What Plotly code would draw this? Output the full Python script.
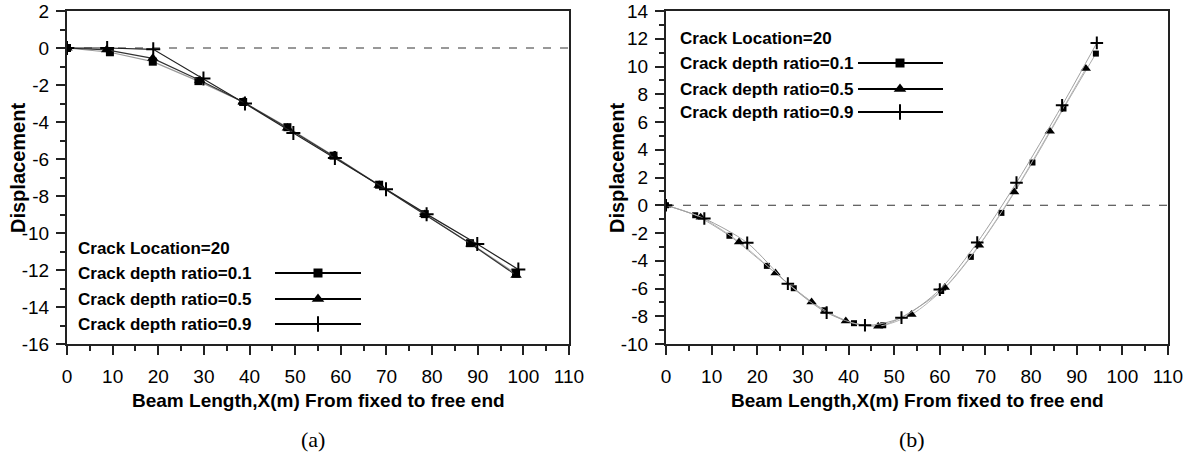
import plotly.graph_objects as go

# ---------------- data: panel (a) ----------------
a_x_01 = [0, 9.4, 18.8, 28.8, 38.6, 48.3, 58.4, 68.4, 78.4, 88.3, 98.4]
a_y_01 = [0, -0.23, -0.74, -1.79, -2.92, -4.28, -5.82, -7.39, -8.98, -10.55, -12.2]
a_x_05 = [0, 8.7, 18.8, 29.1, 38.6, 48.3, 58.4, 68.4, 78.4, 88.5, 98.4]
a_y_05 = [0, -0.1, -0.56, -1.74, -2.92, -4.32, -5.85, -7.42, -9.0, -10.6, -12.28]
a_x_09 = [0, 8.8, 18.9, 29.9, 39.0, 49.6, 58.7, 69.9, 78.8, 89.9, 98.9]
a_y_09 = [0, 0, -0.07, -1.65, -3.0, -4.6, -5.94, -7.63, -8.98, -10.6, -11.97]

# ---------------- data: panel (b) ----------------
b_x_01 = [0, 6.4, 13.9, 22.1, 28.0, 34.7, 41.2, 47.6, 60.3, 66.8, 73.5, 80.3, 87.1, 94.2]
b_y_01 = [0, -0.72, -2.2, -4.37, -5.98, -7.57, -8.5, -8.65, -6.18, -3.72, -0.55, 3.08, 6.97, 10.93]
b_x_05 = [0, 7.6, 16.0, 24.0, 31.9, 39.4, 46.5, 53.8, 61.1, 68.6, 76.3, 84.1, 92.0]
b_y_05 = [0, -0.86, -2.64, -4.88, -6.97, -8.34, -8.72, -7.88, -5.93, -2.88, 0.96, 5.33, 9.85]
b_x_09 = [0, 8.4, 17.8, 26.7, 35.2, 43.6, 51.6, 60.0, 68.2, 76.8, 86.8, 94.4]
b_y_09 = [0, -0.96, -2.71, -5.65, -7.74, -8.65, -8.1, -6.08, -2.69, 1.63, 7.2, 11.7]

series_names = ["Crack depth ratio=0.1", "Crack depth ratio=0.5", "Crack depth ratio=0.9"]
legend_title = "Crack Location=20"
x_title = "Beam Length,X(m) From fixed to free end"
y_title = "Displacement"
panel_labels = ["(a)", "(b)"]

x_ticks = [0, 10, 20, 30, 40, 50, 60, 70, 80, 90, 100, 110]
x_ticktext = ["0", "10", "20", "30", "40", "50", "60", "70", "80", "90", "100", "110"]
ya_ticks = [2, 0, -2, -4, -6, -8, -10, -12, -14, -16]
ya_ticktext = ["2", "0", "-2", "-4", "-6", "-8", "-10", "-12", "-14", "-16"]
yb_ticks = [14, 12, 10, 8, 6, 4, 2, 0, -2, -4, -6, -8, -10]
yb_ticktext = ["14", "12", "10", "8", "6", "4", "2", "0", "-2", "-4", "-6", "-8", "-10"]

W, H = 1195, 459
FONT = "Liberation Sans, Arial, sans-serif"
SERIF = "Liberation Serif, Times New Roman, serif"
AX = "#222222"

def px_x(p):  # page pixel -> paper fraction
    return p / W

def px_y(p):
    return 1 - p / H

fig = go.Figure()

symbols = ["square", "triangle-up", "cross-thin"]

def marker(sym, size):
    if sym == "cross-thin":
        return dict(symbol=sym, size=size, color="black", line=dict(color="black", width=2))
    return dict(symbol=sym, size=size, color="black", line=dict(width=0))

# zero dashed lines
for xa, ya in [("x", "y"), ("x2", "y2")]:
    fig.add_trace(go.Scatter(x=[0, 110], y=[0, 0], mode="lines", xaxis=xa, yaxis=ya,
                             line=dict(color="#333", width=1, dash="8px,9px"),
                             hoverinfo="skip", showlegend=False))

# panel (a)
a_sets = [(a_x_01, a_y_01, "#9a9a9a", 8), (a_x_05, a_y_05, "#333333", 10), (a_x_09, a_y_09, "#222222", 10)]
for (xs, ys, lc, ms), sym, nm in zip(a_sets, symbols, series_names):
    fig.add_trace(go.Scatter(x=xs, y=ys, mode="lines+markers", name=nm, xaxis="x", yaxis="y",
                             line=dict(color=lc, width=1.2), marker=marker(sym, ms), showlegend=False))

# panel (b)
b_sets = [(b_x_01, b_y_01, "#aaaaaa", 6), (b_x_05, b_y_05, "#b5b5b5", 9), (b_x_09, b_y_09, "#a0a0a0", 9)]
for (xs, ys, lc, ms), sym, nm in zip(b_sets, symbols, series_names):
    fig.add_trace(go.Scatter(x=xs, y=ys, mode="lines", xaxis="x2", yaxis="y2",
                             line=dict(color=lc, width=1, shape="spline", smoothing=0.8),
                             hoverinfo="skip", showlegend=False))
    fig.add_trace(go.Scatter(x=xs, y=ys, mode="markers", name=nm, xaxis="x2", yaxis="y2",
                             marker=marker(sym, ms), showlegend=False))

# custom legends on a page-pixel overlay axis
legend_boxes = [
    dict(tx=76, ty=[248, 273, 299, 324], lx0=275, lx1=361, mx=318, msz=[9, 11, 11]),
    dict(tx=678, ty=[38, 63, 89, 112], lx0=858, lx1=943, mx=900, msz=[9, 11, 11]),
]
annotations = []
for lb in legend_boxes:
    annotations.append(dict(x=lb["tx"], y=lb["ty"][0], xref="x3", yref="y3", text=legend_title,
                            showarrow=False, xanchor="left", yanchor="middle",
                            font=dict(family=FONT, size=17, color="black", weight="bold")))
    for i, nm in enumerate(series_names):
        yy = lb["ty"][i + 1]
        annotations.append(dict(x=lb["tx"], y=yy, xref="x3", yref="y3", text=nm,
                                showarrow=False, xanchor="left", yanchor="middle",
                                font=dict(family=FONT, size=17, color="black", weight="bold")))
        fig.add_trace(go.Scatter(x=[lb["lx0"], lb["lx1"]], y=[yy, yy], mode="lines", xaxis="x3", yaxis="y3",
                                 line=dict(color="black", width=2), hoverinfo="skip", showlegend=False))
        fig.add_trace(go.Scatter(x=[lb["mx"]], y=[yy], mode="markers", xaxis="x3", yaxis="y3",
                                 marker=marker(symbols[i], lb["msz"][i]), hoverinfo="skip", showlegend=False))

# axis titles & panel labels
for cx, lbl in [(318, panel_labels[0]), (917, panel_labels[1])]:
    annotations.append(dict(x=cx, y=400, xref="x3", yref="y3", text=x_title, showarrow=False,
                            xanchor="center", yanchor="middle",
                            font=dict(family=FONT, size=19, color="black", weight="bold")))
    annotations.append(dict(x=cx - 5, y=439, xref="x3", yref="y3", text=lbl, showarrow=False,
                            xanchor="center", yanchor="middle",
                            font=dict(family=SERIF, size=22, color="black")))
for cx in [18, 617]:
    annotations.append(dict(x=cx, y=168, xref="x3", yref="y3", text=y_title, showarrow=False,
                            textangle=-90, xanchor="center", yanchor="middle", borderpad=0,
                            font=dict(family=FONT, size=20, color="black", weight="bold")))

def xaxis(domain, anchor):
    return dict(domain=domain, anchor=anchor, range=[0, 110], tickvals=x_ticks, ticktext=x_ticktext,
                ticks="outside", ticklen=9, tickwidth=2, tickcolor=AX, automargin=False,
                ticklabeloverflow="allow",
                minor=dict(dtick=5, tick0=0, ticks="outside", ticklen=5, tickwidth=2, tickcolor=AX),
                showline=True, linecolor=AX, linewidth=2, mirror=True, showgrid=False, zeroline=False,
                tickfont=dict(family=FONT, size=19, color="black"), ticklabelstandoff=5)

def yaxis(domain, anchor, rng, tv, tt):
    return dict(domain=domain, anchor=anchor, range=rng, tickvals=tv, ticktext=tt,
                ticks="outside", ticklen=9, tickwidth=2, tickcolor=AX, automargin=False,
                ticklabeloverflow="allow",
                minor=dict(dtick=1, tick0=0, ticks="outside", ticklen=5, tickwidth=2, tickcolor=AX),
                showline=True, linecolor=AX, linewidth=2, mirror=True, showgrid=False, zeroline=False,
                tickfont=dict(family=FONT, size=19, color="black"), ticklabelstandoff=3)

ydom = [px_y(344), px_y(11)]
fig.update_layout(
    template="none",
    width=W, height=H, autosize=False,
    margin=dict(l=0, r=0, t=0, b=0, pad=0),
    paper_bgcolor="white", plot_bgcolor="rgba(0,0,0,0)",
    showlegend=False,
    xaxis=xaxis([px_x(67), px_x(569)], "y"),
    yaxis=yaxis(ydom, "x", [-16, 2], ya_ticks, ya_ticktext),
    xaxis2=xaxis([px_x(666), px_x(1168)], "y2"),
    yaxis2=yaxis(ydom, "x2", [-10, 14], yb_ticks, yb_ticktext),
    xaxis3=dict(domain=[0, 1], anchor="y3", range=[0, W], visible=False, fixedrange=True, automargin=False),
    yaxis3=dict(domain=[0, 1], anchor="x3", range=[H, 0], visible=False, fixedrange=True, automargin=False),
    annotations=annotations,
)

fig.write_html("out.html", config={"displayModeBar": False},
               post_script="document.body.style.margin='0';document.body.style.overflow='hidden';")
